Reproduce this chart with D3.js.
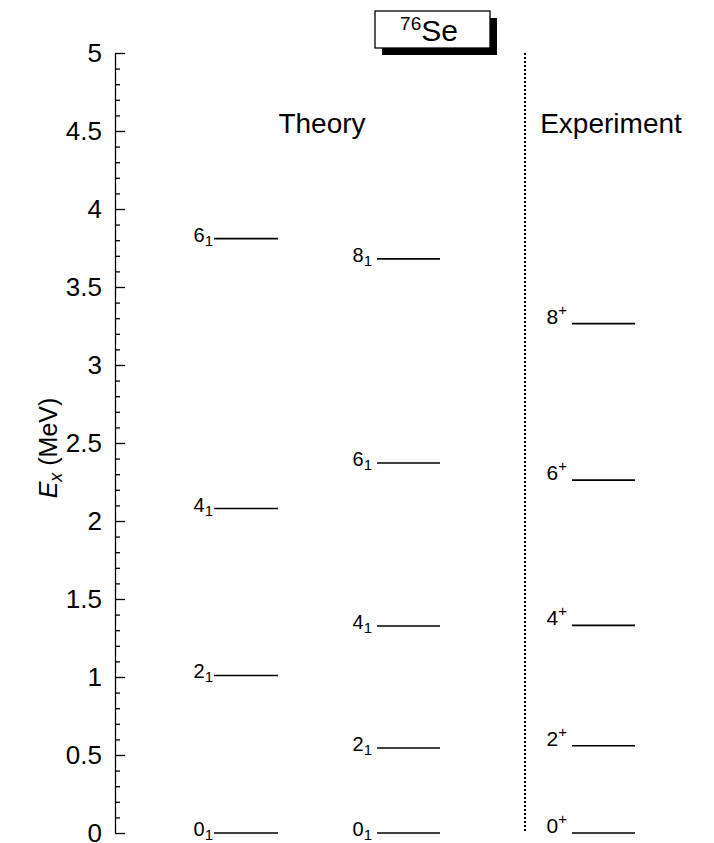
<!DOCTYPE html>
<html>
<head>
<meta charset="utf-8">
<script src="https://cdn.jsdelivr.net/npm/d3@7"></script>
<style>
  html, body { margin: 0; padding: 0; background: #fff; }
  svg { display: block; font-family: "Liberation Sans", Arial, Helvetica, sans-serif; }
</style>
</head>
<body>
<svg id="chart" width="714" height="843"></svg>
<script>
// Level energies (MeV) for 76Se
const theoryASpins    = ["0", "2", "4", "6"];
const theoryAEnergies = [0, 1.01, 2.08, 3.81];

const theoryBSpins    = ["0", "2", "4", "6", "8"];
const theoryBEnergies = [0, 0.545, 1.327, 2.372, 3.68];

const expSpins        = ["0", "2", "4", "6", "8"];
const expEnergies     = [0, 0.559, 1.331, 2.262, 3.265];

const columnNames = ["theoryA", "theoryB", "experiment"];
const yTickValues = [0, 0.5, 1, 1.5, 2, 2.5, 3, 3.5, 4, 4.5, 5];
const yTickLabels = ["0", "0.5", "1", "1.5", "2", "2.5", "3", "3.5", "4", "4.5", "5"];

const svg = d3.select("#chart");

const y = d3.scaleLinear().domain([0, 5]).range([833, 53]);
// left edge of each column of level lines
const colX = d3.scaleOrdinal().domain(columnNames).range([214, 377, 572]);
const lineLen = { theoryA: 64, theoryB: 63, experiment: 63 };

// Axis: major ticks with labels, minor ticks every 0.1 MeV
const axisX = 115;
const majorAxis = d3.axisLeft(y)
  .tickValues(yTickValues)
  .tickFormat((d, i) => yTickLabels[i])
  .tickSizeInner(-10)
  .tickSizeOuter(0)
  .tickPadding(13);
const gAxis = svg.append("g").attr("transform", `translate(${axisX},0)`).call(majorAxis);
gAxis.select(".domain").attr("stroke", "#000").attr("stroke-width", 1.3);
gAxis.selectAll(".tick line").attr("stroke", "#000").attr("stroke-width", 1.3);
gAxis.selectAll(".tick text")
  .attr("font-family", "Liberation Sans, Arial, sans-serif")
  .attr("font-size", 26).attr("fill", "#000");

const minorAxis = d3.axisLeft(y)
  .tickValues(y.ticks(50).filter(v => !yTickValues.some(t => Math.abs(t - v) < 1e-9)))
  .tickFormat("")
  .tickSizeInner(-5)
  .tickSizeOuter(0);
const gMinor = svg.append("g").attr("transform", `translate(${axisX},0)`).call(minorAxis);
gMinor.select(".domain").remove();
gMinor.selectAll(".tick line").attr("stroke", "#000").attr("stroke-width", 1.3);

// Axis title: E_x (MeV)
const yTitle = svg.append("text")
  .attr("transform", `translate(57,${(y(0) + y(5)) / 2 + 5}) rotate(-90)`)
  .attr("text-anchor", "middle")
  .attr("font-size", 25)
  .attr("fill", "#000");
yTitle.append("tspan").attr("font-style", "italic").text("E");
yTitle.append("tspan").attr("font-style", "italic").attr("font-size", 18).attr("dy", 5).text("x");
yTitle.append("tspan").attr("dy", -5).text(" (MeV)");

// Separator between theory and experiment
svg.append("line")
  .attr("x1", 525).attr("x2", 525)
  .attr("y1", y(5)).attr("y2", y(0))
  .attr("stroke", "#000").attr("stroke-width", 2)
  .attr("stroke-dasharray", "2,2");

// Column headers
svg.append("text").attr("x", 322).attr("y", 133)
  .attr("text-anchor", "middle").attr("font-size", 28).text("Theory");
svg.append("text").attr("x", 611).attr("y", 133)
  .attr("text-anchor", "middle").attr("font-size", 28).text("Experiment");

// Nucleus label box with drop shadow
const box = { x: 375, y: 11, w: 115, h: 37, off: 7 };
svg.append("rect")
  .attr("x", box.x + box.off).attr("y", box.y + box.off)
  .attr("width", box.w).attr("height", box.h).attr("fill", "#000");
svg.append("rect")
  .attr("x", box.x).attr("y", box.y)
  .attr("width", box.w).attr("height", box.h)
  .attr("fill", "#fff").attr("stroke", "#000").attr("stroke-width", 1.3);
const nuc = svg.append("text")
  .attr("x", box.x + 54).attr("y", box.y + 30)
  .attr("text-anchor", "middle").attr("font-size", 30);
nuc.append("tspan").attr("font-size", 19).attr("dy", -11).text("76");
nuc.append("tspan").attr("dy", 11).text("Se");

// Level lines and spin labels
function drawColumn(name, spins, energies, experiment) {
  const levels = spins.map((s, i) => ({ spin: s, e: energies[i] }));
  const g = svg.append("g").attr("class", "col-" + name);
  const x0 = colX(name);
  g.selectAll("line.level").data(levels).join("line")
    .attr("class", "level")
    .attr("x1", x0).attr("x2", x0 + lineLen[name])
    .attr("y1", d => y(d.e)).attr("y2", d => y(d.e))
    .attr("stroke", "#000").attr("stroke-width", 1.6);

  const labels = g.selectAll("text.spin").data(levels).join("text")
    .attr("class", "spin")
    .attr("text-anchor", "end")
    .attr("x", x0 - (name === "theoryA" ? 1 : 5))
    .attr("y", d => y(d.e) + (experiment ? 0 : 3))
    .attr("font-size", experiment ? 21 : 20);
  labels.append("tspan").text(d => d.spin);
  if (experiment) {
    labels.append("tspan").attr("font-size", 15).attr("dy", -9).text("+");
  } else {
    labels.append("tspan").attr("font-size", 15).attr("dy", 4).text("1");
  }
}

drawColumn("theoryA", theoryASpins, theoryAEnergies, false);
drawColumn("theoryB", theoryBSpins, theoryBEnergies, false);
drawColumn("experiment", expSpins, expEnergies, true);
</script>
</body>
</html>
